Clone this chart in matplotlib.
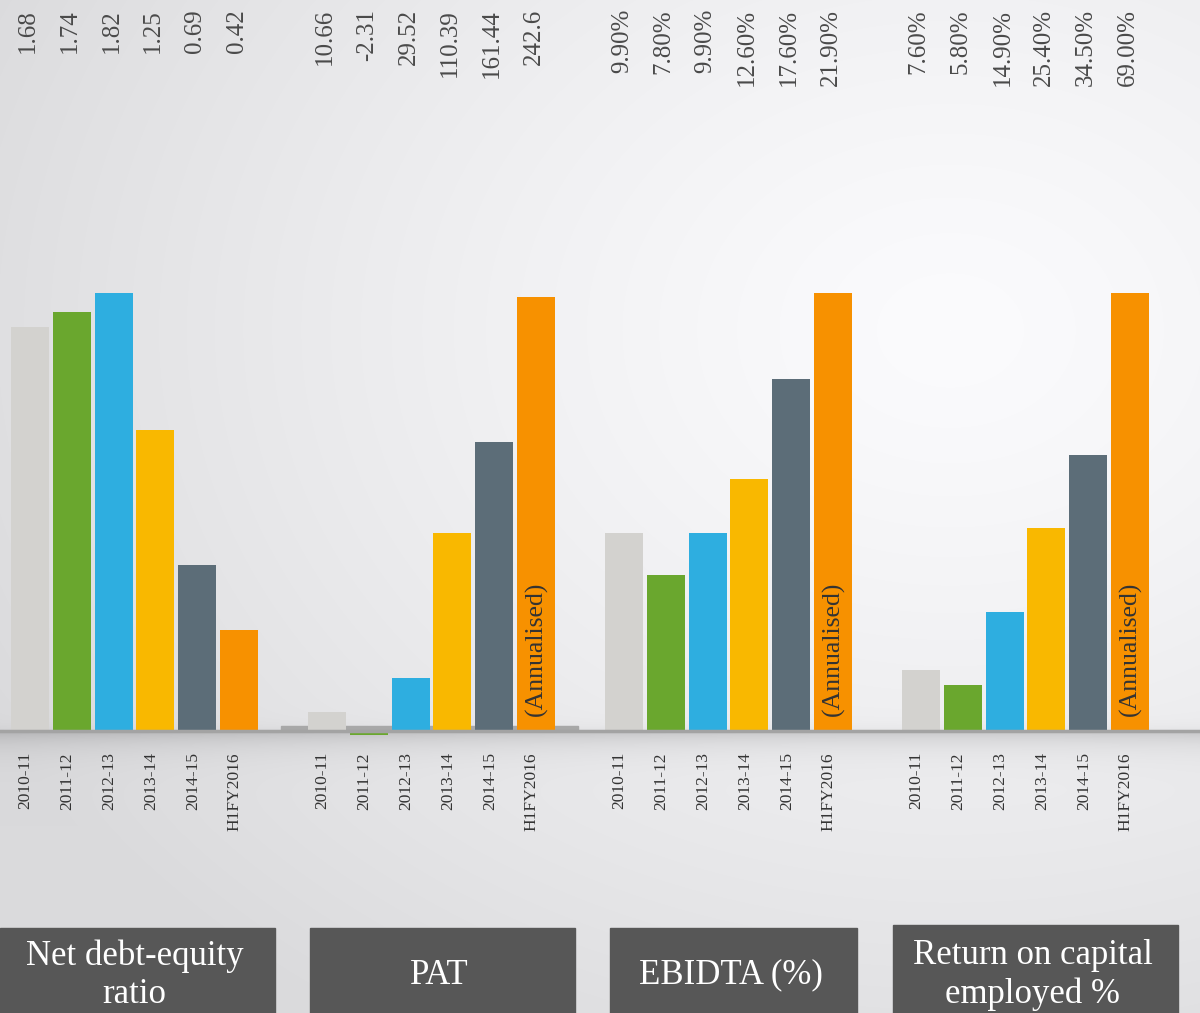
import numpy as np
import matplotlib
matplotlib.use("Agg")
import matplotlib.pyplot as plt
from matplotlib import transforms
from matplotlib.lines import Line2D
from matplotlib.patches import Rectangle

plt.rcParams['font.family'] = ['Liberation Serif', 'DejaVu Serif']

# data
years = ["2010-11", "2011-12", "2012-13", "2013-14", "2014-15", "H1FY2016"]
titles = ["Net debt-equity\nratio", "PAT", "EBIDTA (%)", "Return on capital\nemployed %"]
debt_equity = [1.68, 1.74, 1.82, 1.25, 0.69, 0.42]
pat = [10.66, -2.31, 29.52, 110.39, 161.44, 242.6]
ebidta = [9.9, 7.8, 9.9, 12.6, 17.6, 21.9]
roce = [7.6, 5.8, 14.9, 25.4, 34.5, 69.0]
debt_equity_labels = ["1.68", "1.74", "1.82", "1.25", "0.69", "0.42"]
pat_labels = ["10.66", "-2.31", "29.52", "110.39", "161.44", "242.6"]
ebidta_labels = ["9.90%", "7.80%", "9.90%", "12.60%", "17.60%", "21.90%"]
roce_labels = ["7.60%", "5.80%", "14.90%", "25.40%", "34.50%", "69.00%"]

series = [debt_equity, pat, ebidta, roce]
labels = [debt_equity_labels, pat_labels, ebidta_labels, roce_labels]
# axis top for each panel (ROCE last bar is cut at the top in the original)
ytops = [1.82, 244.8, 21.9, 54.75]
colors = ["#d3d2cf", "#6aa72e", "#2eaee0", "#f9b800", "#5c6d78", "#f79100"]

W, H = 1200, 1013
fig = plt.figure(figsize=(W / 100, H / 100), dpi=100)

# background: soft radial gradient + shadow under the baseline
yy, xx = np.mgrid[0:H, 0:W]
d = np.sqrt(((xx - 950) / 900.0) ** 2 + ((yy - 330) / 700.0) ** 2)
bg = 251 - 26 * np.clip(d, 0, 1.2) ** 1.3
below = yy - 731
shadow = np.where(below >= 0, 38 * np.exp(-below / 14.0), 10 * np.exp(below / 6.0))
bg = np.clip(bg - shadow, 0, 255)
img = np.dstack([bg, bg, bg + 2]) / 255.0
bax = fig.add_axes([0, 0, 1, 1])
bax.imshow(np.clip(img, 0, 1), aspect='auto', extent=[0, W, H, 0])
bax.set_xlim(0, W)
bax.set_ylim(H, 0)
bax.axis('off')

fig.add_artist(Line2D([0, 1], [1 - 731 / H] * 2, transform=fig.transFigure,
                      color="#a3a3a3", lw=2.5))

x = np.arange(len(years))
base_px, top_px, bot_px = 731, 293, 745
for g in range(4):
    left = (9 + 297 * g) / W
    ax = fig.add_axes([left, 1 - bot_px / H, 251 / W, (bot_px - top_px) / H])
    ax.patch.set_alpha(0)
    t = ytops[g]
    ax.set_ylim(-(bot_px - base_px) / (base_px - top_px) * t, t)
    ax.set_xlim(-0.5, 5.5)
    ax.axis('off')
    if g == 1:
        ax.add_patch(Rectangle((-1.1, 0), 7.1, 5 * t / 438, color="#a8a8a8",
                               zorder=1, clip_on=False))
    ax.bar(x, series[g], width=0.91, color=colors, zorder=2)

    tr = transforms.blended_transform_factory(ax.transData, fig.transFigure)
    for i in range(len(years)):
        ax.text(i - 0.05, 1 - 9 / H, labels[g][i], transform=tr, rotation=90,
                ha='center', va='top', fontsize=18, color="#4a4a4a")
        ax.text(i - 0.1, 1 - 752 / H, years[i], transform=tr, rotation=90,
                ha='center', va='top', fontsize=12.5, color="#333333")
    if g > 0:
        ax.text(5, 1 - 716 / H, "(Annualised)", transform=tr, rotation=90,
                ha='center', va='bottom', fontsize=18.5, color="#333333", zorder=3)

# title boxes
boxes = [(0, 275, 928), (310, 575, 928), (610, 857, 928), (893, 1178, 925)]
for (x0, x1, y0), title in zip(boxes, titles):
    fig.add_artist(Rectangle((x0 / W, 0), (x1 - x0) / W, 1 - y0 / H,
                             transform=fig.transFigure, color="#575757"))
    fig.text((x0 + x1) / 2 / W - 3 / W, 1 - 975 / H, title, ha='center', va='center',
             fontsize=25, color="white", linespacing=1.2)

plt.savefig("out.png", dpi=100)
